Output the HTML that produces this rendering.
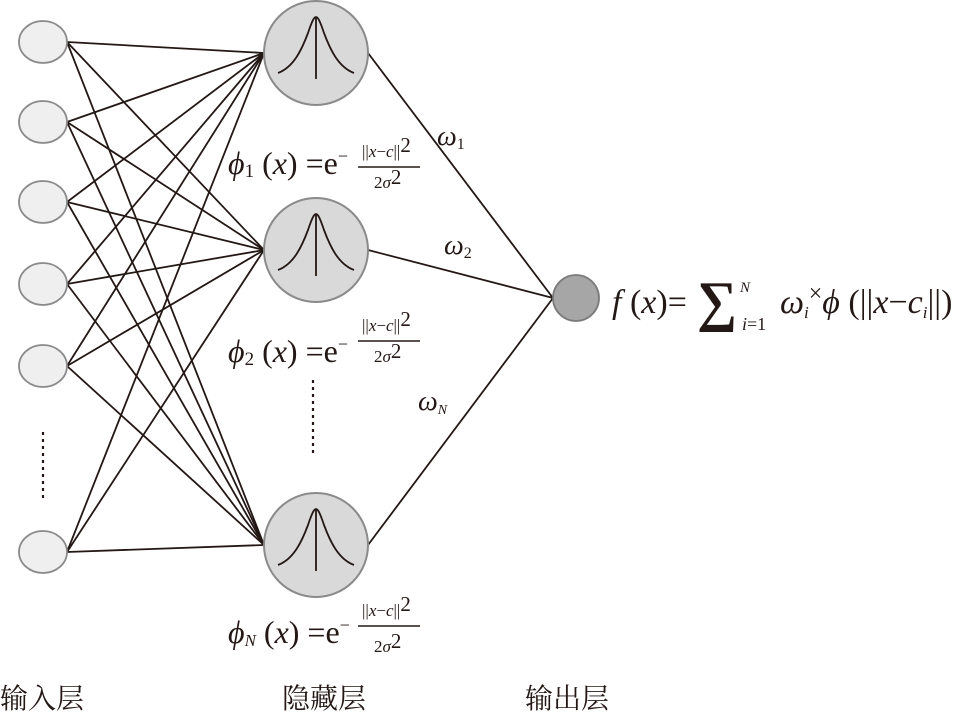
<!DOCTYPE html>
<html><head><meta charset="utf-8"><style>
html,body{margin:0;padding:0;background:#fff}
svg{display:block}
text{font-family:"Liberation Serif",serif;fill:#231815}
.cn{font-family:"Noto Serif CJK SC","Noto Sans CJK SC",serif}
</style></head><body>
<svg width="954" height="717" viewBox="0 0 954 717" xmlns="http://www.w3.org/2000/svg">
<g stroke="#231815" stroke-width="1.8" fill="none">
<line x1="67" y1="42" x2="264" y2="53"/><line x1="67" y1="42" x2="264" y2="250"/><line x1="67" y1="42" x2="264" y2="545"/>
<line x1="67" y1="122" x2="264" y2="53"/><line x1="67" y1="122" x2="264" y2="250"/><line x1="67" y1="122" x2="264" y2="545"/>
<line x1="67" y1="202" x2="264" y2="53"/><line x1="67" y1="202" x2="264" y2="250"/><line x1="67" y1="202" x2="264" y2="545"/>
<line x1="67" y1="284" x2="264" y2="53"/><line x1="67" y1="284" x2="264" y2="250"/><line x1="67" y1="284" x2="264" y2="545"/>
<line x1="67" y1="366" x2="264" y2="53"/><line x1="67" y1="366" x2="264" y2="250"/><line x1="67" y1="366" x2="264" y2="545"/>
<line x1="67" y1="552" x2="264" y2="53"/><line x1="67" y1="552" x2="264" y2="250"/><line x1="67" y1="552" x2="264" y2="545"/>
<line x1="368" y1="53" x2="553" y2="298"/>
<line x1="368" y1="250" x2="553" y2="298"/>
<line x1="368" y1="545" x2="553" y2="298"/>
</g>
<g fill="#efefef" stroke="#8a8a8a" stroke-width="1.8">
<ellipse cx="43" cy="42" rx="24" ry="21"/>
<ellipse cx="43" cy="122" rx="24" ry="21"/>
<ellipse cx="43" cy="202" rx="24" ry="21"/>
<ellipse cx="43" cy="284" rx="24" ry="21"/>
<ellipse cx="43" cy="366" rx="24" ry="21"/>
<ellipse cx="43" cy="552" rx="24" ry="21"/>
</g>
<line x1="43" y1="432" x2="43" y2="502" stroke="#231815" stroke-width="2.2" stroke-dasharray="3,4"/>
<line x1="313" y1="380" x2="313" y2="455" stroke="#231815" stroke-width="2.2" stroke-dasharray="3,4"/>
<g fill="#d9d9d9" stroke="#8a8a8a" stroke-width="2">
<circle cx="316" cy="53" r="52"/>
<circle cx="316" cy="250" r="52"/>
<circle cx="316" cy="545" r="52"/>
</g>
<g stroke="#231815" stroke-width="1.8" fill="none">
<g transform="translate(316,53)">
<path d="M-38,20 C-22,14 -14,-4 -8,-20 C-4,-32 -2,-36 0,-36 C2,-36 4,-32 8,-20 C14,-4 22,14 38,20"/>
<line x1="0" y1="-36" x2="0" y2="26"/>
</g>
<g transform="translate(316,250)">
<path d="M-38,20 C-22,14 -14,-4 -8,-20 C-4,-32 -2,-36 0,-36 C2,-36 4,-32 8,-20 C14,-4 22,14 38,20"/>
<line x1="0" y1="-36" x2="0" y2="26"/>
</g>
<g transform="translate(316,545)">
<path d="M-38,20 C-22,14 -14,-4 -8,-20 C-4,-32 -2,-36 0,-36 C2,-36 4,-32 8,-20 C14,-4 22,14 38,20"/>
<line x1="0" y1="-36" x2="0" y2="26"/>
</g>
</g>
<circle cx="576" cy="298" r="23" fill="#a6a6a6" stroke="#7a7a7a" stroke-width="1.8"/>

<g font-size="32">
<text x="228" y="174"><tspan font-style="italic">ϕ</tspan><tspan font-size="19" dy="3">1</tspan><tspan dy="-3"> (</tspan><tspan font-style="italic">x</tspan>) =e<tspan font-size="18" dy="-12">−</tspan></text>
<line x1="358" y1="167" x2="420" y2="167" stroke="#231815" stroke-width="1.4"/>
<text x="362" y="157" font-size="17">||<tspan font-style="italic">x</tspan>−<tspan font-style="italic">c</tspan>||<tspan font-size="21" dy="-5">2</tspan></text>
<text x="374" y="188" font-size="17">2<tspan font-style="italic">σ</tspan><tspan font-size="21" dy="-4">2</tspan></text>

<text x="228" y="362"><tspan font-style="italic">ϕ</tspan><tspan font-size="19" dy="3">2</tspan><tspan dy="-3"> (</tspan><tspan font-style="italic">x</tspan>) =e<tspan font-size="18" dy="-12">−</tspan></text>
<line x1="358" y1="341" x2="420" y2="341" stroke="#231815" stroke-width="1.4"/>
<text x="362" y="331" font-size="17">||<tspan font-style="italic">x</tspan>−<tspan font-style="italic">c</tspan>||<tspan font-size="21" dy="-5">2</tspan></text>
<text x="374" y="362" font-size="17">2<tspan font-style="italic">σ</tspan><tspan font-size="21" dy="-4">2</tspan></text>

<text x="228" y="643"><tspan font-style="italic">ϕ</tspan><tspan font-size="17" font-style="italic" dy="3">N</tspan><tspan dy="-3"> (</tspan><tspan font-style="italic">x</tspan>) =e<tspan font-size="18" dy="-12">−</tspan></text>
<line x1="358" y1="626" x2="420" y2="626" stroke="#231815" stroke-width="1.4"/>
<text x="362" y="616" font-size="17">||<tspan font-style="italic">x</tspan>−<tspan font-style="italic">c</tspan>||<tspan font-size="21" dy="-5">2</tspan></text>
<text x="374" y="652" font-size="17">2<tspan font-style="italic">σ</tspan><tspan font-size="21" dy="-4">2</tspan></text>
</g>

<text x="437" y="145" font-size="28" font-style="italic">ω<tspan font-size="16" font-style="normal" dy="4">1</tspan></text>
<text x="444" y="254" font-size="28" font-style="italic">ω<tspan font-size="16" font-style="normal" dy="4">2</tspan></text>
<text x="418" y="410" font-size="28" font-style="italic">ω<tspan font-size="14" dy="4">N</tspan></text>

<text x="612" y="313" font-size="34"><tspan font-style="italic">f</tspan> (<tspan font-style="italic">x</tspan>)=</text>
<text x="697" y="320" font-size="56" font-weight="bold">∑</text>
<text x="740" y="292" font-size="15" font-style="italic">N</text>
<text x="742" y="330" font-size="18"><tspan font-style="italic">i</tspan>=1</text>
<text x="780" y="313" font-size="34"><tspan font-style="italic">ω</tspan><tspan font-size="17" font-style="italic" dy="5">i</tspan><tspan font-size="24" dy="-17">×</tspan><tspan font-style="italic" dy="12">ϕ</tspan> (||<tspan font-style="italic">x</tspan>−<tspan font-style="italic">c</tspan><tspan font-size="17" font-style="italic" dy="5">i</tspan><tspan dy="-5">||)</tspan></text>

<text class="cn" x="0" y="708" font-size="28">输入层</text>
<text class="cn" x="282" y="708" font-size="28">隐藏层</text>
<text class="cn" x="525" y="708" font-size="28">输出层</text>
</svg>
</body></html>
